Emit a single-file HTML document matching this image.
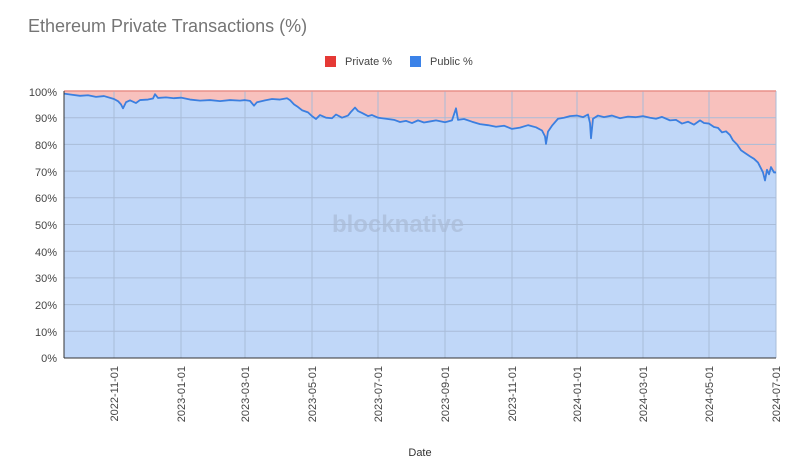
<!DOCTYPE html>
<html><head><meta charset="utf-8"><style>
body{margin:0;background:#fff;}
svg{display:block;font-family:"Liberation Sans",Arial,sans-serif;}
</style></head><body>
<svg width="806" height="471" viewBox="0 0 806 471">
<rect width="806" height="471" fill="#fff"/>
<text x="28" y="32" font-size="18" fill="#757575">Ethereum Private Transactions (%)</text>
<rect x="325" y="56" width="11" height="11" fill="#e53935"/>
<text x="345" y="65" font-size="11" fill="#444">Private %</text>
<rect x="410" y="56" width="11" height="11" fill="#3b82e8"/>
<text x="430" y="65" font-size="11" fill="#444">Public %</text>
<rect x="64" y="91" width="712" height="267" fill="#f8c1bd"/>
<g transform="translate(0,358) scale(1,-2.67)">
<path id="ar" d="M64,0 L64,99 L72,98.6 L80,98.2 L88,98.4 L96,97.8 L104,98.1 L114,97 L118,96.2 L121,95 L123,93.5 L126,95.8 L130,96.5 L136,95.5 L140,96.6 L148,96.8 L153,97.2 L155,98.8 L158,97.4 L166,97.6 L174,97.3 L181,97.5 L190,96.8 L200,96.4 L210,96.6 L220,96.2 L230,96.6 L240,96.4 L245,96.6 L250,96.3 L254,94.5 L257,95.8 L265,96.5 L272,97 L280,96.8 L287,97.3 L290,96.6 L294,95 L298,94 L302,92.8 L308,92 L312,90.6 L316,89.5 L320,91 L326,90 L332,89.8 L336,91.2 L342,90 L348,90.8 L351,92.2 L355,93.8 L358,92.5 L362,91.8 L368,90.6 L372,91 L378,90 L386,89.6 L394,89.2 L400,88.4 L406,88.8 L412,88 L418,89 L424,88.2 L430,88.6 L436,89 L445,88.3 L452,89 L456,93.5 L458,89.2 L464,89.5 L472,88.5 L480,87.6 L488,87.2 L496,86.6 L504,87 L512,85.8 L520,86.3 L528,87.2 L536,86.4 L542,85.2 L545,83 L546,80.2 L548,84.8 L552,87 L558,89.6 L564,90 L570,90.6 L577,90.8 L583,90.2 L588,91.2 L590,88 L591,82.3 L593,89.6 L598,90.8 L604,90.2 L612,90.8 L620,89.8 L628,90.4 L636,90.2 L643,90.6 L650,90 L656,89.6 L662,90.3 L670,89 L676,89.2 L682,87.8 L688,88.5 L694,87.4 L700,89 L704,88 L709,87.8 L714,86.5 L718,86.2 L722,84.5 L726,84.9 L730,83.5 L733,81.5 L737,80 L741,77.8 L745,76.8 L750,75.5 L754,74.6 L758,73.2 L761,71 L763,69.5 L765,66.5 L767,70.5 L769,68.8 L771,71.5 L774,69.5 L776,69.5 L776,0 Z" fill="#c0d7f8"/>
</g>
<g stroke="#a9bcd8" stroke-width="1">
<line x1="64" x2="776" y1="117.7" y2="117.7"/><line x1="64" x2="776" y1="144.4" y2="144.4"/><line x1="64" x2="776" y1="171.1" y2="171.1"/><line x1="64" x2="776" y1="197.8" y2="197.8"/><line x1="64" x2="776" y1="224.5" y2="224.5"/><line x1="64" x2="776" y1="251.2" y2="251.2"/><line x1="64" x2="776" y1="277.9" y2="277.9"/><line x1="64" x2="776" y1="304.6" y2="304.6"/><line x1="64" x2="776" y1="331.3" y2="331.3"/>
<line x1="114" x2="114" y1="91" y2="358"/><line x1="181" x2="181" y1="91" y2="358"/><line x1="245" x2="245" y1="91" y2="358"/><line x1="312" x2="312" y1="91" y2="358"/><line x1="378" x2="378" y1="91" y2="358"/><line x1="445" x2="445" y1="91" y2="358"/><line x1="512" x2="512" y1="91" y2="358"/><line x1="577" x2="577" y1="91" y2="358"/><line x1="643" x2="643" y1="91" y2="358"/><line x1="709" x2="709" y1="91" y2="358"/><line x1="776" x2="776" y1="91" y2="358"/>
</g>
<line x1="64" x2="776" y1="91" y2="91" stroke="#e8908a" stroke-width="1.5"/>
<g transform="translate(0,358) scale(1,-2.67)">
<path d="M64,99 L72,98.6 L80,98.2 L88,98.4 L96,97.8 L104,98.1 L114,97 L118,96.2 L121,95 L123,93.5 L126,95.8 L130,96.5 L136,95.5 L140,96.6 L148,96.8 L153,97.2 L155,98.8 L158,97.4 L166,97.6 L174,97.3 L181,97.5 L190,96.8 L200,96.4 L210,96.6 L220,96.2 L230,96.6 L240,96.4 L245,96.6 L250,96.3 L254,94.5 L257,95.8 L265,96.5 L272,97 L280,96.8 L287,97.3 L290,96.6 L294,95 L298,94 L302,92.8 L308,92 L312,90.6 L316,89.5 L320,91 L326,90 L332,89.8 L336,91.2 L342,90 L348,90.8 L351,92.2 L355,93.8 L358,92.5 L362,91.8 L368,90.6 L372,91 L378,90 L386,89.6 L394,89.2 L400,88.4 L406,88.8 L412,88 L418,89 L424,88.2 L430,88.6 L436,89 L445,88.3 L452,89 L456,93.5 L458,89.2 L464,89.5 L472,88.5 L480,87.6 L488,87.2 L496,86.6 L504,87 L512,85.8 L520,86.3 L528,87.2 L536,86.4 L542,85.2 L545,83 L546,80.2 L548,84.8 L552,87 L558,89.6 L564,90 L570,90.6 L577,90.8 L583,90.2 L588,91.2 L590,88 L591,82.3 L593,89.6 L598,90.8 L604,90.2 L612,90.8 L620,89.8 L628,90.4 L636,90.2 L643,90.6 L650,90 L656,89.6 L662,90.3 L670,89 L676,89.2 L682,87.8 L688,88.5 L694,87.4 L700,89 L704,88 L709,87.8 L714,86.5 L718,86.2 L722,84.5 L726,84.9 L730,83.5 L733,81.5 L737,80 L741,77.8 L745,76.8 L750,75.5 L754,74.6 L758,73.2 L761,71 L763,69.5 L765,66.5 L767,70.5 L769,68.8 L771,71.5 L774,69.5 L776,69.5" fill="none" stroke="#3b7fe0" stroke-width="1.8" vector-effect="non-scaling-stroke" stroke-linejoin="round"/>
</g>
<line x1="64" x2="64" y1="91" y2="358" stroke="#333" stroke-width="1"/>
<line x1="64" x2="776" y1="358" y2="358" stroke="#333" stroke-width="1"/>
<text x="398" y="232" font-size="24" font-weight="bold" fill="#aabbd6" text-anchor="middle" opacity="0.7">blocknative</text>
<g font-size="11" fill="#444" text-anchor="end">
<text x="57" y="96">100%</text><text x="57" y="122">90%</text><text x="57" y="149">80%</text><text x="57" y="176">70%</text><text x="57" y="202">60%</text><text x="57" y="229">50%</text><text x="57" y="256">40%</text><text x="57" y="282">30%</text><text x="57" y="309">20%</text><text x="57" y="336">10%</text><text x="57" y="362">0%</text>
</g>
<g font-size="11" fill="#444" text-anchor="end">
<text transform="translate(118,366) rotate(-90)">2022-11-01</text>
<text transform="translate(185,366) rotate(-90)">2023-01-01</text>
<text transform="translate(249,366) rotate(-90)">2023-03-01</text>
<text transform="translate(316,366) rotate(-90)">2023-05-01</text>
<text transform="translate(382,366) rotate(-90)">2023-07-01</text>
<text transform="translate(449,366) rotate(-90)">2023-09-01</text>
<text transform="translate(516,366) rotate(-90)">2023-11-01</text>
<text transform="translate(581,366) rotate(-90)">2024-01-01</text>
<text transform="translate(647,366) rotate(-90)">2024-03-01</text>
<text transform="translate(713,366) rotate(-90)">2024-05-01</text>
<text transform="translate(780,366) rotate(-90)">2024-07-01</text>
</g>
<text x="420" y="456" font-size="11" fill="#333" text-anchor="middle">Date</text>
</svg>
</body></html>
